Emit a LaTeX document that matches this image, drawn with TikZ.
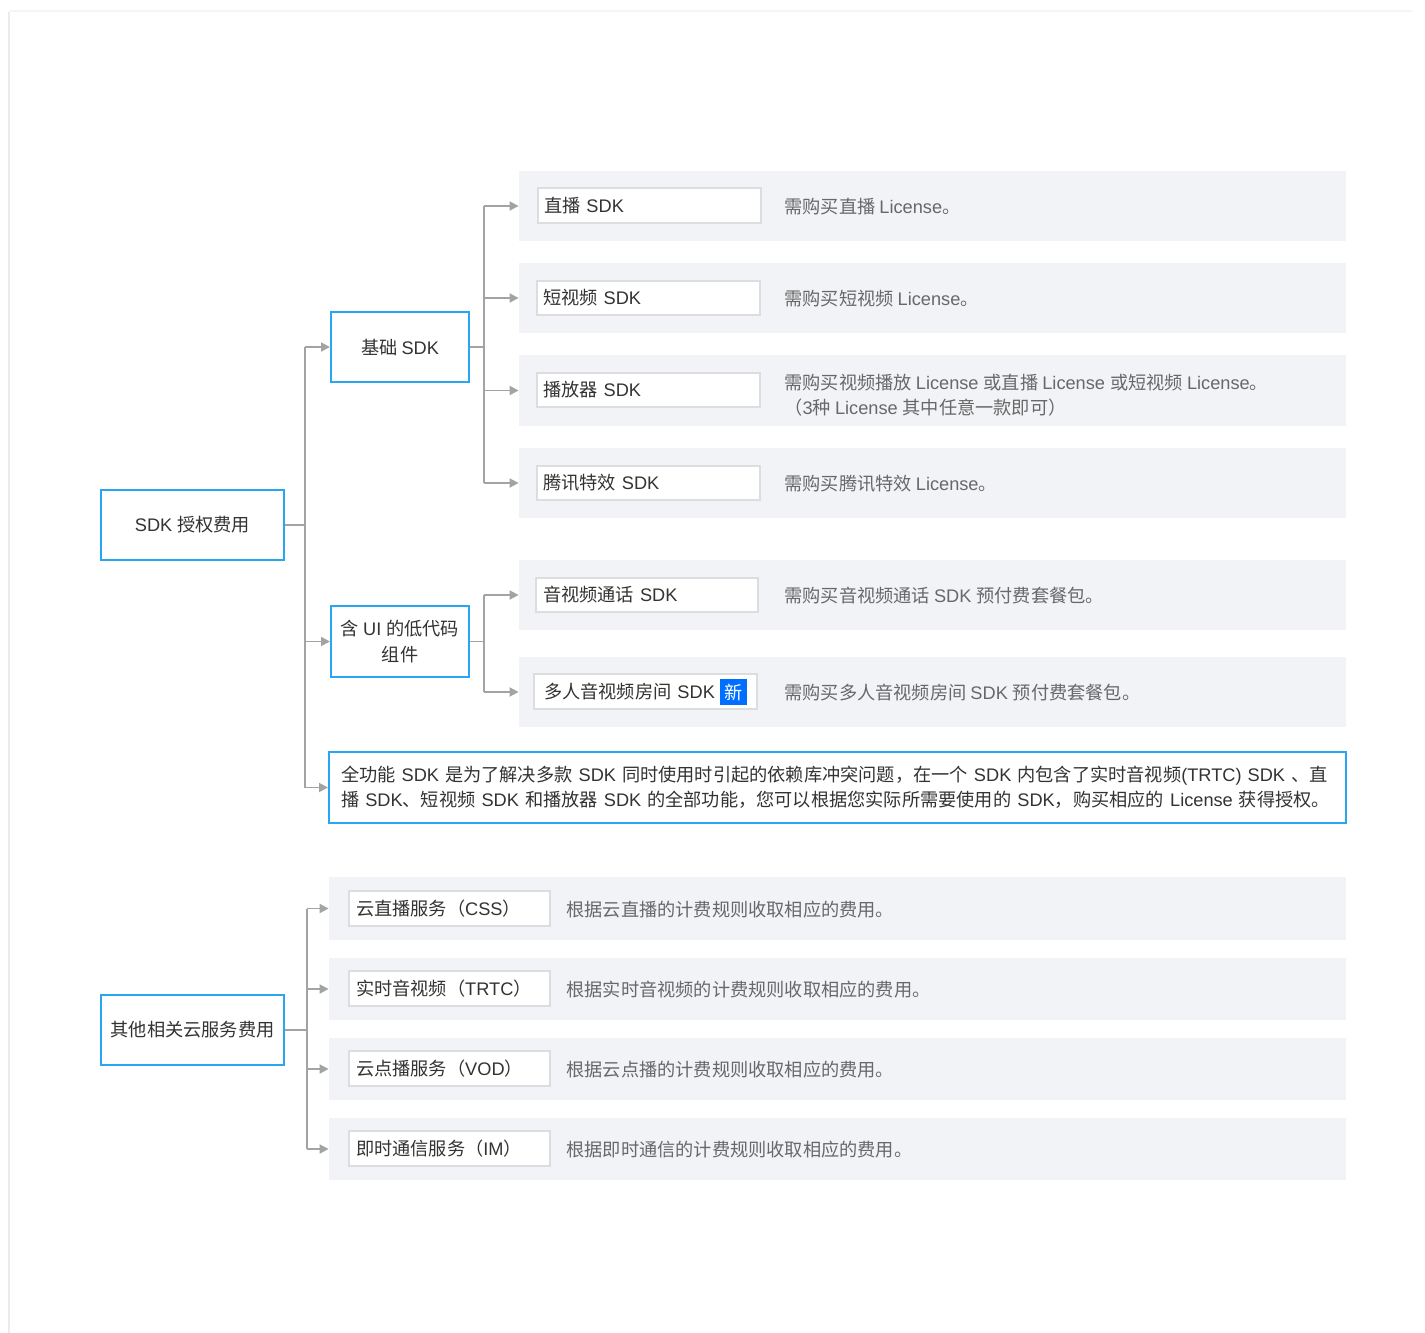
\documentclass[tikz,border=0pt]{standalone}
\usepackage{fontspec}
\setmainfont{Liberation Sans}
\newfontfamily\cjkf{Noto Sans CJK SC}
\newfontfamily\latf{Liberation Sans}
\newcount\mycc
\mycc="3000 \loop \XeTeXcharclass\mycc=1 \advance\mycc by 1 \ifnum\mycc<"3040 \repeat
\mycc="4E00 \loop \XeTeXcharclass\mycc=1 \advance\mycc by 1 \ifnum\mycc<"A000 \repeat
\mycc="FF00 \loop \XeTeXcharclass\mycc=1 \advance\mycc by 1 \ifnum\mycc<"FFF0 \repeat
\XeTeXinterchartokenstate=1
\XeTeXinterchartoks 0 1 {\cjkf}
\XeTeXinterchartoks 4095 1 {\cjkf}
\XeTeXinterchartoks 1 0 {\latf}
\XeTeXinterchartoks 4095 0 {\latf}
\usetikzlibrary{arrows.meta}
\definecolor{bluebd}{HTML}{29A6F2}
\definecolor{panelbg}{HTML}{F2F3F7}
\definecolor{linegray}{HTML}{A3A3A3}
\definecolor{boxbd}{HTML}{DCDDE0}
\definecolor{txtdark}{HTML}{333333}
\definecolor{txtgray}{HTML}{686868}
\definecolor{badgeblue}{HTML}{006EFF}
\newcommand\bx[7]{%
  \pgfmathsetmacro\bw{(#4-#2)*0.5}%
  \pgfmathsetmacro\bh{(#5-#3)*0.5}%
  \node[#6,minimum width=\bw pt,minimum height=\bh pt] (#1) at ({(#2+#4)/2},{(#3+#5)/2}) {#7};}
\newcommand\lbx[8]{%
  \pgfmathsetmacro\bw{(#4-#2)*0.5-2*#8}%
  \pgfmathsetmacro\bh{(#5-#3)*0.5}%
  \node[#6,text width=\bw pt,minimum height=\bh pt,inner xsep=#8pt,inner ysep=0pt,align=left] (#1) at ({(#2+#4)/2},{(#3+#5)/2}) {#7};}
\begin{document}
\begin{tikzpicture}[x={(0.5pt,0)},y={(0,-0.5pt)},
  font=\fontsize{9.1}{12.6}\selectfont,
  main/.style={draw=bluebd,line width=1pt,fill=white,text=txtdark,inner sep=0pt,align=center},
  panel/.style={fill=panelbg,inner sep=0pt},
  wbox/.style={draw=boxbd,line width=0.8pt,fill=white,text=txtdark},
  desc/.style={anchor=west,text=txtgray,inner sep=0pt,align=left},
  conn/.style={draw=linegray,line width=0.9pt},
  arr/.style={conn,-{Triangle[length=4.5pt,width=4.5pt]}}]
\useasboundingbox (0,0) rectangle (1425,1333);
% faint frame
\draw[black!4,line width=1.2pt] (9,11) -- (1412,11);
\draw[black!8,line width=1.2pt] (9,12) -- (9,1333);

% main boxes
\bx{sdk}{101}{490}{284}{560}{main}{SDK 授权费用}
\bx{base}{331}{312}{469}{382}{main}{基础 SDK}
\bx{lowcode}{331}{606}{469}{677}{main}{含 UI 的低代码\\组件}
\lbx{full}{329}{752}{1346}{823}{main}{全功能 SDK 是为了解决多款 SDK 同时使用时引起的依赖库冲突问题，在一个 SDK 内包含了实时音视频(TRTC) SDK 、直\\播 SDK、短视频 SDK 和播放器 SDK 的全部功能，您可以根据您实际所需要使用的 SDK，购买相应的 License 获得授权。}{6}
\bx{other}{101}{995}{284}{1065}{main}{其他相关云服务费用}

% panels
\bx{p1}{519}{171}{1346}{241}{panel}{}
\bx{p2}{519}{263}{1346}{333}{panel}{}
\bx{p3}{519}{355}{1346}{426}{panel}{}
\bx{p4}{519}{448}{1346}{518}{panel}{}
\bx{p5}{519}{560}{1346}{630}{panel}{}
\bx{p6}{519}{657}{1346}{727}{panel}{}
\bx{q1}{329}{877}{1346}{940}{panel}{}
\bx{q2}{329}{958}{1346}{1020}{panel}{}
\bx{q3}{329}{1038}{1346}{1100}{panel}{}
\bx{q4}{329}{1118}{1346}{1180}{panel}{}

% white boxes
\lbx{w1}{538}{188}{761}{223}{wbox}{直播 SDK}{3}
\lbx{w2}{537}{281}{760}{315}{wbox}{短视频 SDK}{3}
\lbx{w3}{537}{373}{760}{407}{wbox}{播放器 SDK}{3}
\lbx{w4}{537}{466}{760}{500}{wbox}{腾讯特效 SDK}{3}
\lbx{w5}{536}{578}{758}{612}{wbox}{音视频通话 SDK}{3.5}
\lbx{w6}{534}{674}{757}{709}{wbox}{多人音视频房间 SDK}{5}
\bx{badge}{720}{679}{747}{705}{fill=badgeblue,text=white,inner sep=0pt}{新}
\lbx{v1}{349}{891}{550}{926}{wbox}{云直播服务（CSS）}{3.5}
\lbx{v2}{349}{971}{550}{1006}{wbox}{实时音视频（TRTC）}{3.5}
\lbx{v3}{349}{1051}{550}{1086}{wbox}{云点播服务（VOD）}{3.5}
\lbx{v4}{349}{1131}{550}{1166}{wbox}{即时通信服务（IM）}{3.5}

% descriptions
\node[desc] (d1) at (784,207) {需购买直播 License。};
\node[desc] (d2) at (784,299) {需购买短视频 License。};
\node[desc] (d3) at (784,395) {需购买视频播放 License 或直播 License 或短视频 License。\\（3种 License 其中任意一款即可）};
\node[desc] (d4) at (784,484) {需购买腾讯特效 License。};
\node[desc] (d5) at (784,596) {需购买音视频通话 SDK 预付费套餐包。};
\node[desc] (d6) at (784,693) {需购买多人音视频房间 SDK 预付费套餐包。};
\node[desc] (e1) at (566,910) {根据云直播的计费规则收取相应的费用。};
\node[desc] (e2) at (566,990) {根据实时音视频的计费规则收取相应的费用。};
\node[desc] (e3) at (566,1070) {根据云点播的计费规则收取相应的费用。};
\node[desc] (e4) at (566,1150) {根据即时通信的计费规则收取相应的费用。};

% connectors: SDK root
\coordinate (t1) at (305,522);
\draw[conn] (sdk.east) -- (sdk.east -| t1);
\draw[conn] (t1 |- base.west) -- (t1 |- full.west);
\draw[arr] (t1 |- base.west) -- (base.west);
\draw[arr] (t1 |- lowcode.west) -- (lowcode.west);
\draw[arr] (t1 |- full.west) -- (full.west);
% base
\coordinate (t2) at (484,347);
\draw[conn] (base.east) -- (base.east -| t2);
\draw[conn] (t2 |- p1.west) -- (t2 |- p4.west);
\foreach \p in {p1,p2,p3,p4} \draw[arr] (t2 |- \p.west) -- (\p.west);
% lowcode
\coordinate (t3) at (484,641);
\draw[conn] (lowcode.east) -- (lowcode.east -| t3);
\draw[conn] (t3 |- p5.west) -- (t3 |- p6.west);
\foreach \p in {p5,p6} \draw[arr] (t3 |- \p.west) -- (\p.west);
% other
\coordinate (t4) at (307,1031);
\draw[conn] (other.east) -- (other.east -| t4);
\draw[conn] (t4 |- q1.west) -- (t4 |- q4.west);
\foreach \p in {q1,q2,q3,q4} \draw[arr] (t4 |- \p.west) -- (\p.west);
\end{tikzpicture}
\end{document}
